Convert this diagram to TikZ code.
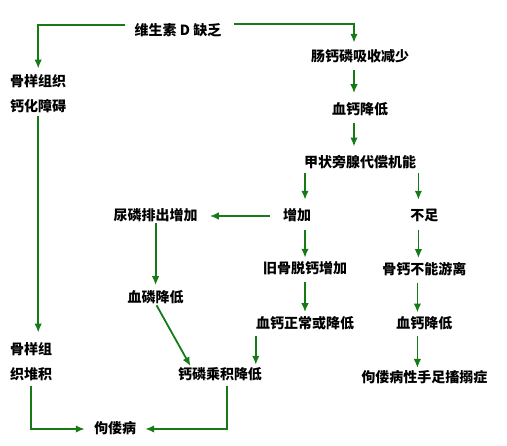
\documentclass[tikz,border=0pt]{standalone}
\usepackage{fontspec}
\usetikzlibrary{positioning,arrows.meta}
\newfontfamily\cjk{Noto Sans CJK SC}
\definecolor{flowgreen}{RGB}{22,122,22}
\tikzset{
  txt/.style={font=\cjk\bfseries\fontsize{14}{26}\selectfont, inner sep=0pt, text height=11pt, text depth=1pt},
  twoline/.style={font=\cjk\bfseries\fontsize{14}{25}\selectfont, inner sep=0pt, align=left, anchor=west},
  arr/.style={draw=flowgreen, line width=1.8pt, -{Latex[length=9pt,width=7.5pt]}, shorten <=7pt, shorten >=6pt},
}

\begin{document}
\begin{tikzpicture}[x=1pt,y=-1pt]
\useasboundingbox (0,0) rectangle (507,446);

% top and main column
\node[txt] (vitd) at (178,31) {维生素 D 缺乏};
\node[txt] (changgai) at (360,57) {肠钙磷吸收减少};
\node[txt, below=40pt of changgai] (xuegai) {血钙降低};
\node[txt, below=41pt of xuegai] (jiazhuang) {甲状旁腺代偿机能};

% two branches
\node[txt] (zengjia) at (297,216) {增加};
\node[txt, right=99pt of zengjia] (buzu) {不足};
\node[txt, left=85pt of zengjia] (niaolin) {尿磷排出增加};
\node[txt, below=69pt of niaolin] (xuelin) {血磷降低};
\node[txt] (jiugu) at (305,269) {旧骨脱钙增加};
\node[txt, below=42pt of jiugu] (xuegaizc) {血钙正常或降低};
\node[txt, below=41pt of buzu] (gugai) {骨钙不能游离};
\node[txt, below=42pt of gugai] (xuegaidi) {血钙降低};
\node[txt, below=41pt of xuegaidi] (shouzu) {佝偻病性手足搐搦症};
\node[txt] (gailin) at (220,375) {钙磷乘积降低};

% left side
\node[twoline] (guyangzz) at (10,94) {骨样组织\\钙化障碍};
\node[twoline] (guyangdj) at (10,362) {骨样组\\织堆积};
\node[txt] (goulou) at (115,429) {佝偻病};

% connectors
\draw[arr, shorten <=9pt] ([yshift=6pt]vitd.west) -| (guyangzz.north);
\draw[arr, shorten <=12pt, shorten >=8pt] ([yshift=7pt]vitd.east) -| ([xshift=-6pt]changgai.north);
\draw[arr, shorten >=10pt] ([xshift=-6pt]changgai.south) -- ([xshift=-6pt]xuegai.north);
\draw[arr, shorten >=10pt] ([xshift=-6pt]xuegai.south) -- ([xshift=-6pt]jiazhuang.north);
\draw[arr, shorten <=4pt, shorten >=10pt] (jiazhuang.south -| jiugu) -- (zengjia.north -| jiugu);
\draw[arr, shorten <=4pt, shorten >=10pt] ([xshift=-6pt]jiazhuang.south -| buzu) -- ([xshift=-6pt]buzu.north);
\draw[arr, shorten <=13pt, shorten >=12pt] (zengjia.west) -- (niaolin.east);
\draw[arr, shorten <=8pt, shorten >=5pt] (zengjia.south -| jiugu) -- (jiugu.north);
\draw[arr, shorten <=8pt, shorten >=5pt] ([xshift=-6pt]buzu.south) -- ([xshift=-6pt]gugai.north);
\draw[arr, shorten >=5pt] (jiugu.south) -- (xuegaizc.north);
\draw[arr, shorten >=5pt] ([xshift=-7pt]gugai.south) -- ([xshift=-7pt]xuegaidi.north);
\draw[arr, shorten <=6pt, shorten >=3pt] ([xshift=-7pt]xuegaidi.south) -- ([xshift=-7pt]shouzu.north);
\draw[arr, shorten <=1pt, shorten >=6pt] (niaolin.south) -- (xuelin.north);
\draw[arr, shorten <=2pt, shorten >=3pt] (xuelin.south) -- ([xshift=-28pt]gailin.north);
\draw[arr, shorten <=6pt, shorten >=4pt] (xuegaizc.south west) -- (xuegaizc.south west |- gailin.north);
\draw[arr, shorten <=3pt, shorten >=10pt] (guyangzz.south) -- (guyangzz.south |- guyangdj.north);
\draw[arr, shorten <=5pt, shorten >=9pt] (guyangdj.south) |- (goulou.west);
\draw[arr, shorten <=5pt, shorten >=9pt] ([xshift=7pt]gailin.south) |- (goulou.east);
\end{tikzpicture}
\end{document}
